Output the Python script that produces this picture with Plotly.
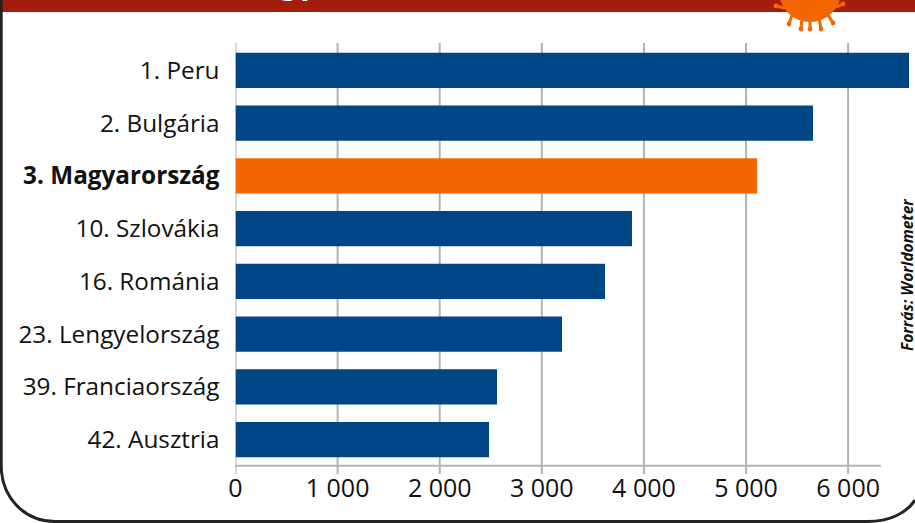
import plotly.graph_objects as go

categories = ["1. Peru", "2. Bulgária", "<b>3. Magyarország</b>", "10. Szlovákia", "16. Románia",
              "23. Lengyelország", "39. Franciaország", "42. Ausztria"]
values = [6596, 5656, 5108, 3883, 3619, 3198, 2561, 2483]
bar_colors = ["#004687", "#004687", "#f46700", "#004687", "#004687", "#004687", "#004687", "#004687"]
tick_vals = [0, 1000, 2000, 3000, 4000, 5000, 6000]
tick_text = ["0", "1 000", "2 000", "3 000", "4 000", "5 000", "6 000"]
source = "Forrás: Worldometer"
title_clip = "gy"

W, H = 915, 523
L, R, T, B = 235.5, 909, 44, 466
px = lambda x: x / W
py = lambda y: 1 - y / H

fig = go.Figure(go.Bar(y=categories, x=values, orientation="h",
                       marker=dict(color=bar_colors, line_width=0), width=0.665))

shapes = []
# header band
shapes.append(dict(type="rect", xref="paper", yref="paper", x0=0, x1=1, y0=py(12), y1=1.01,
                   fillcolor="#a51c0c", line_width=0, layer="below"))
# frame
shapes.append(dict(type="path", xref="paper", yref="paper",
                   path=f"M {px(1.2)} {py(0)} L {px(1.2)} {py(465)} C {px(1.2)} {py(497)} {px(24)} {py(521.5)} {px(55)} {py(521.5)} "
                        f"L {px(868)} {py(521.5)} C {px(888)} {py(521.5)} {px(906)} {py(514)} {px(915)} {py(500)}",
                   line=dict(color="#25231f", width=3), layer="below"))
# virus
shapes.append(dict(type="circle", xref="paper", yref="paper", x0=px(779), x1=px(841), y0=py(22), y1=py(-40),
                   fillcolor="#f46700", line_width=0, layer="above"))
for (x1, y1, x2, y2) in [(785, 8, 776, 6), (792, 15, 789, 24), (802, 18, 801, 29), (810, 19, 810, 29),
                         (819, 18, 821, 29), (828, 15, 833, 23), (836, 7, 843, 4)]:
    shapes.append(dict(type="line", xref="paper", yref="paper", x0=px(x1), y0=py(y1), x1=px(x2), y1=py(y2),
                       line=dict(color="#f46700", width=3), layer="above"))
    shapes.append(dict(type="circle", xref="paper", yref="paper", x0=px(x2 - 2.4), x1=px(x2 + 2.4),
                       y0=py(y2 + 2.4), y1=py(y2 - 2.4), fillcolor="#f46700", line_width=0, layer="above"))
# x axis line and gridlines
shapes.append(dict(type="line", xref="paper", yref="paper", x0=px(L - .5), x1=px(881), y0=py(465.8), y1=py(465.8),
                   line=dict(color="#b3b3b3", width=2), layer="below"))
for v in tick_vals:
    shapes.append(dict(type="line", xref="x", yref="paper", x0=v, x1=v, y0=py(474), y1=py(43),
                       line=dict(color="#b3b3b3", width=2), layer="below"))

annotations = [
    dict(text=source, xref="paper", yref="paper", x=px(907), y=py(275), textangle=-90, showarrow=False,
         font=dict(family="Open Sans", size=15.5, color="#111111", style="italic", weight="bold"),
         xanchor="center", yanchor="middle"),
    dict(text=f"<b>{title_clip}</b>", xref="paper", yref="paper", x=px(298), y=py(5), showarrow=False,
         font=dict(family="Lato", size=38, color="white"), xanchor="center", yanchor="bottom"),
]

fig.update_layout(
    width=W, height=H, margin=dict(l=0, r=0, t=0, b=0), autosize=False,
    paper_bgcolor="white", plot_bgcolor="rgba(0,0,0,0)", showlegend=False,
    shapes=shapes, annotations=annotations, bargap=0.335,
    font=dict(family="Open Sans", color="#111111", size=24),
)
fig.update_xaxes(domain=[px(L), px(R)], range=[0, 6596], tickvals=tick_vals, ticktext=tick_text,
                 showgrid=False, zeroline=False, showline=False, ticks="", ticklabelstandoff=5,
                 tickfont=dict(size=25, color="#111111"), automargin=False)
fig.update_yaxes(domain=[py(B), py(T)], autorange="reversed", categoryorder="array", categoryarray=categories,
                 showgrid=False, zeroline=False, showline=False, ticks="", ticklabelstandoff=16,
                 tickfont=dict(size=24.3, color="#111111"), automargin=False, anchor="free", position=px(L))
fig.write_html("out.html", config={"displayModeBar": False},
               post_script="document.body.style.margin='0';document.documentElement.style.overflow='hidden';")
